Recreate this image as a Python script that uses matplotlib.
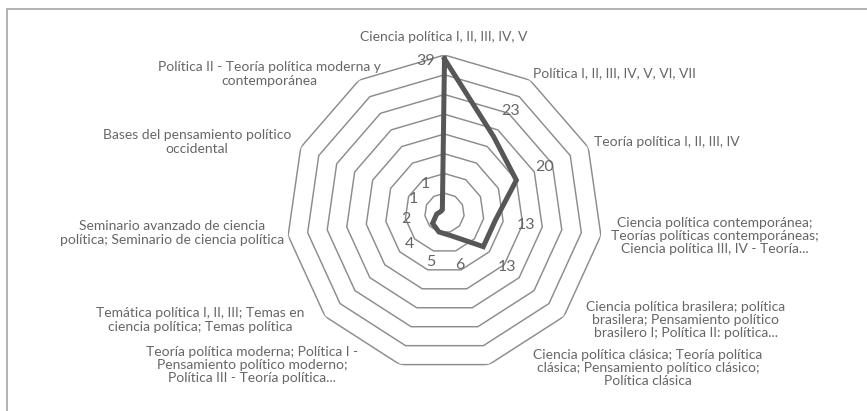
import numpy as np
import matplotlib.pyplot as plt
from matplotlib.patches import Rectangle

# ---------------- data ----------------
categories = [
    "Ciencia política I, II, III, IV, V",
    "Política I, II, III, IV, V, VI, VII",
    "Teoría política I, II, III, IV",
    "Ciencia política contemporánea;\nTeorías políticas contemporáneas;\nCiencia política III, IV - Teoría...",
    "Ciencia política brasilera; política\nbrasilera; Pensamiento político\nbrasilero I; Política II: política...",
    "Ciencia política clásica; Teoría política\nclásica; Pensamiento político clásico;\nPolítica clásica",
    "Teoría política moderna; Política I -\nPensamiento político moderno;\nPolítica III - Teoría política...",
    "Temática política I, II, III; Temas en\nciencia política; Temas política",
    "Seminario avanzado de ciencia\npolítica; Seminario de ciencia política",
    "Bases del pensamiento político\noccidental",
    "Política II - Teoría política moderna y\ncontemporánea",
]
values = [39, 23, 20, 13, 13, 6, 5, 4, 2, 1, 1]
rings = [5, 10, 15, 20, 25, 30, 35, 40]

# label centres in pixels (x from left, y from top) of the 867x411 picture
label_px = [(444, 37), (614, 73), (667, 142), (715, 236), (686, 320), (648, 368),
            (252, 365), (200, 320), (172, 233), (197, 142), (269, 74)]

W, H = 867, 411
TXT = "#666666"
plt.rcParams['font.family'] = ['Lato', 'DejaVu Sans']

fig = plt.figure(figsize=(W / 100, H / 100), dpi=100)

# outer chart frame (only top and left edges visible)
fig.add_artist(Rectangle((7 / W, -0.1), 1.2, (H - 9) / H + 0.1, transform=fig.transFigure,
                         fill=False, edgecolor="#a6a6a6", linewidth=1.2))

cx, cy, R = 444.5, 213, 158
ax = fig.add_axes([(cx - R) / W, (H - cy - R) / H, 2 * R / W, 2 * R / H], projection='polar')
ax.set_theta_zero_location('N')
ax.set_theta_direction(-1)
ax.set_ylim(0, 40)
ax.grid(False)
ax.set_xticks([])
ax.set_yticks([])
ax.spines['polar'].set_visible(False)
ax.patch.set_alpha(0)

n = len(categories)
theta = np.linspace(0, 2 * np.pi, n, endpoint=False)
theta_c = np.append(theta, theta[0])

# polygon grid
for r in rings:
    ax.plot(theta_c, [r] * (n + 1), color="#8c8c8c", linewidth=1.05, zorder=1)

# data line
vals_c = values + values[:1]
ax.plot(theta_c, vals_c, color="#575757", linewidth=3.6, solid_joinstyle='miter', zorder=3)

# data labels
for t, v in zip(theta, values):
    r_lab = v + 7.8
    if r_lab > 40:
        ax.text(t - np.radians(7), v - 0.3, str(v), ha='center', va='center',
                fontsize=11.5, color=TXT, zorder=4)
    else:
        ax.text(t, r_lab, str(v), ha='center', va='center',
                fontsize=11.5, color=TXT, zorder=4)

# category labels
for lab, (px, py) in zip(categories, label_px):
    fig.text(px / W, 1 - py / H, lab, ha='center', va='center', multialignment='center',
             fontsize=10, color=TXT, linespacing=1.12)

fig.savefig("out.png", dpi=100)
